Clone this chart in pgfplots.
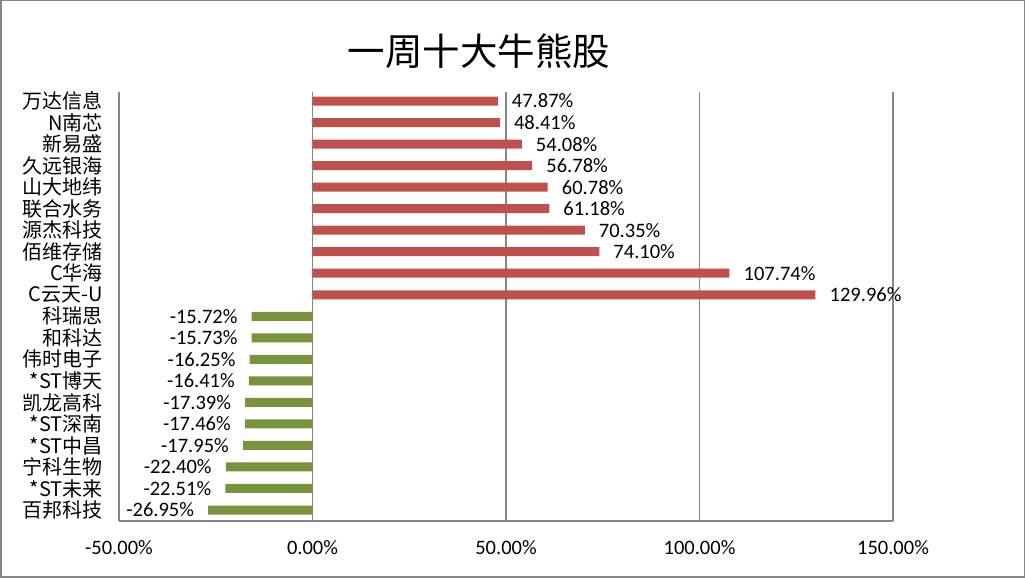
\documentclass[border=0pt]{standalone}
\usepackage{pgfplots}
\pgfplotsset{compat=1.18}
\usepackage{fontspec}
\setmainfont{Carlito}
\newfontfamily\cjk{Noto Sans CJK SC}
\definecolor{barred}{RGB}{192,80,77}
\definecolor{bargreen}{RGB}{119,147,60}
\definecolor{gridgray}{RGB}{134,134,134}
\begin{document}
\begin{tikzpicture}[x=1pt,y=1pt]
\draw[gridgray, line width=1.5pt] (0.75,0.75) rectangle (1024.25,577.25);
\node[font=\cjk\fontsize{37.5}{40}\selectfont, inner sep=0pt] at (479,527) {一周十大牛熊股};
\begin{axis}[
  at={(119pt,57pt)}, anchor=south west,
  scale only axis, width=774pt, height=429pt,
  xbar, bar width=9pt, bar shift=0pt,
  xmin=-50, xmax=150, ymin=-0.51, ymax=19.42,
  axis x line*=bottom, axis y line*=left,
  axis line style={gridgray, line width=1.5pt, -},
  xtick={-50,0,50,100,150},
  xmajorgrids, major grid style={gridgray, line width=1.5pt},
  major tick length=0pt,
  ytick={0,...,19},
  yticklabels={百邦科技,*ST未来,宁科生物,*ST中昌,*ST深南,凯龙高科,*ST博天,伟时电子,和科达,科瑞思,C云天-U,C华海,佰维存储,源杰科技,联合水务,山大地纬,久远银海,新易盛,N南芯,万达信息},
  yticklabel style={font=\cjk\fontsize{20}{21}\selectfont, inner sep=0pt, xshift=-16pt},
  xticklabel={\pgfmathprintnumber[fixed,fixed zerofill,precision=2,assume math mode=true]{\tick}\%},
  xticklabel style={font=\fontsize{20.5}{21}\selectfont, inner sep=0pt, yshift=-19pt},
  nodes near coords={\pgfmathprintnumber[fixed,fixed zerofill,precision=2,assume math mode=true]{\pgfplotspointmeta}\%},
  nodes near coords style={font=\fontsize{20.5}{21}\selectfont, inner sep=0pt, text=black},
  point meta=x,
  clip=false,
]
\addplot[fill=barred, draw=none, every node near coord/.append style={anchor=west, xshift=14pt}] coordinates {
  (47.87,19) (48.41,18) (54.08,17) (56.78,16) (60.78,15) (61.18,14) (70.35,13) (74.10,12) (107.74,11) (129.96,10)
};
\addplot[fill=bargreen, draw=none, every node near coord/.append style={anchor=east, xshift=-14pt}] coordinates {
  (-15.72,9) (-15.73,8) (-16.25,7) (-16.41,6) (-17.39,5) (-17.46,4) (-17.95,3) (-22.40,2) (-22.51,1) (-26.95,0)
};
\end{axis}
\end{tikzpicture}
\end{document}
